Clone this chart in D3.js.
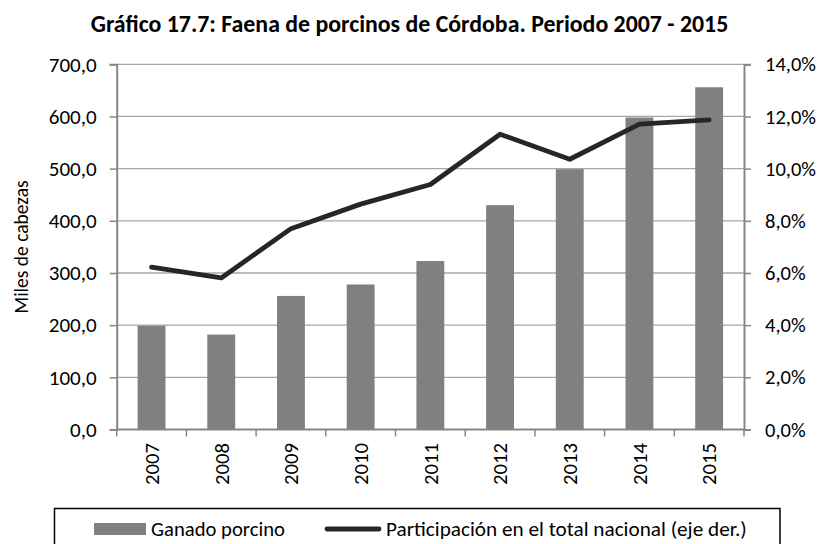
<!DOCTYPE html>
<html>
<head>
<meta charset="utf-8">
<script src="https://cdn.jsdelivr.net/npm/d3@7"></script>
<style>
  body { margin: 0; background: #fff; }
  text { font-family: Carlito, Lato, "Open Sans", sans-serif; fill: #000; }
</style>
</head>
<body>
<svg id="chart"></svg>
<script>
var years = ['2007', '2008', '2009', '2010', '2011', '2012', '2013', '2014', '2015'];
var ganado = [199, 182, 256, 278, 323, 430, 499, 598, 656];
var participacion = [6.22, 5.81, 7.70, 8.64, 9.39, 11.32, 10.36, 11.71, 11.87];
var leftTicks = [0, 100, 200, 300, 400, 500, 600, 700];
var rightTicks = [0, 2, 4, 6, 8, 10, 12, 14];

var W = 820, H = 544,
	mLeft = 116.7, mRight = 744,
	mTop = 64.3, mBottom = 429.5,
	svg, x, yL, yR, fmt;

svg = d3.select('#chart')
	.attr('width', W)
	.attr('height', H);

// scale the font of a text selection so that its first node is `w` px wide
function fit(sel, w) {
	var node = sel.node(),
		fs = parseFloat(sel.style('font-size')),
		len = node.getComputedTextLength();
	sel.style('font-size', (fs * w / len) + 'px');
	return fs * w / len;
}

x = d3.scaleBand().domain(years).range([mLeft, mRight]).paddingInner(0.6).paddingOuter(0.3);
yL = d3.scaleLinear().domain([0, 700]).range([mBottom, mTop]);
yR = d3.scaleLinear().domain([0, 14]).range([mBottom, mTop]);
fmt = function (v, d) { return v.toFixed(d).replace('.', ','); };

// title
var title = svg.append('text')
	.attr('x', 409.5)
	.attr('y', 32)
	.attr('text-anchor', 'middle')
	.style('font-weight', 'bold')
	.style('font-size', '20px')
	.text('Gráfico 17.7: Faena de porcinos de Córdoba. Periodo 2007 - 2015');
fit(title, 638);

// gridlines
svg.append('g')
	.selectAll('line')
	.data(leftTicks.slice(1))
	.enter()
	.append('line')
	.attr('x1', mLeft)
	.attr('x2', mRight)
	.attr('y1', function (d) { return yL(d); })
	.attr('y2', function (d) { return yL(d); })
	.attr('stroke', '#a6a6a6')
	.attr('stroke-width', 1.3);

// bars
svg.append('g')
	.selectAll('rect')
	.data(ganado)
	.enter()
	.append('rect')
	.attr('x', function (d, i) { return x(years[i]); })
	.attr('width', x.bandwidth())
	.attr('y', function (d) { return yL(d); })
	.attr('height', function (d) { return yL(0) - yL(d); })
	.attr('fill', '#808080');

// axes
var axisColor = '#868686';

var gL = svg.append('g')
	.attr('transform', 'translate(' + mLeft + ',0)')
	.call(d3.axisLeft(yL).tickValues(leftTicks).tickSize(7).tickPadding(13)
		.tickFormat(function (d) { return fmt(d, 1); }));

var gR = svg.append('g')
	.attr('transform', 'translate(' + mRight + ',0)')
	.call(d3.axisRight(yR).tickValues(rightTicks).tickSize(7).tickPadding(14)
		.tickFormat(function (d) { return fmt(d, 1) + '%'; }));

var xTickPos = d3.range(years.length + 1).map(function (i) {
	return mLeft + i * (mRight - mLeft) / years.length;
});

var gX = svg.append('g');
gX.append('line')
	.attr('x1', mLeft).attr('x2', mRight)
	.attr('y1', mBottom).attr('y2', mBottom)
	.attr('stroke', axisColor).attr('stroke-width', 2);
gX.selectAll('line.tick')
	.data(xTickPos)
	.enter()
	.append('line')
	.attr('class', 'tick')
	.attr('x1', function (d) { return d; })
	.attr('x2', function (d) { return d; })
	.attr('y1', mBottom)
	.attr('y2', mBottom + 7)
	.attr('stroke', axisColor)
	.attr('stroke-width', 1.5);
var yearText = gX.selectAll('text')
	.data(years)
	.enter()
	.append('text')
	.attr('transform', function (d) {
		return 'translate(' + (x(d) + x.bandwidth() / 2) + ',' + 443 + ') rotate(-90)';
	})
	.attr('text-anchor', 'end')
	.attr('dy', '0.35em')
	.style('font-size', '18px')
	.text(function (d) { return d; });
yearText.style('font-size', fit(yearText, 42) + 'px');

[gL, gR].forEach(function (g) {
	g.select('.domain').attr('stroke', axisColor).attr('stroke-width', 2);
	g.selectAll('.tick line').attr('stroke', axisColor).attr('stroke-width', 1.5);
	g.selectAll('.tick text').style('font-size', '19px').attr('fill', '#000');
});
var lt = gL.selectAll('.tick text');
lt.style('font-size', fit(d3.select(lt.nodes()[7]), 48) + 'px');
var rt = gR.selectAll('.tick text');
rt.style('font-size', fit(d3.select(rt.nodes()[7]), 51) + 'px');

// line series
var line = d3.line()
	.x(function (d, i) { return x(years[i]) + x.bandwidth() / 2; })
	.y(function (d) { return yR(d); });

svg.append('path')
	.datum(participacion)
	.attr('d', line)
	.attr('fill', 'none')
	.attr('stroke', '#262626')
	.attr('stroke-width', 4.8)
	.attr('stroke-linejoin', 'round')
	.attr('stroke-linecap', 'round');

// y axis title
svg.append('text')
	.attr('transform', 'translate(21,' + ((mTop + mBottom) / 2) + ') rotate(-90)')
	.attr('text-anchor', 'middle')
	.attr('dy', '0.35em')
	.style('font-size', '19.5px')
	.text('Miles de cabezas');

// legend
var lg = svg.append('g');
lg.append('rect')
	.attr('x', 54.5)
	.attr('y', 508.5)
	.attr('width', 725.5)
	.attr('height', 60)
	.attr('fill', '#fff')
	.attr('stroke', '#000')
	.attr('stroke-width', 1.5);
lg.append('rect')
	.attr('x', 94)
	.attr('y', 523)
	.attr('width', 52)
	.attr('height', 12)
	.attr('fill', '#808080');
var t1 = lg.append('text')
	.attr('x', 151)
	.attr('y', 529)
	.attr('dy', '0.35em')
	.style('font-size', '18.5px')
	.text('Ganado porcino');
fit(t1, 134);
lg.append('line')
	.attr('x1', 327).attr('x2', 379)
	.attr('y1', 529).attr('y2', 529)
	.attr('stroke', '#262626')
	.attr('stroke-width', 4.8)
	.attr('stroke-linecap', 'round');
var t2 = lg.append('text')
	.attr('x', 386)
	.attr('y', 529)
	.attr('dy', '0.35em')
	.style('font-size', '18.5px')
	.text('Participación en el total nacional (eje der.)');
fit(t2, 361);
</script>
</body>
</html>
